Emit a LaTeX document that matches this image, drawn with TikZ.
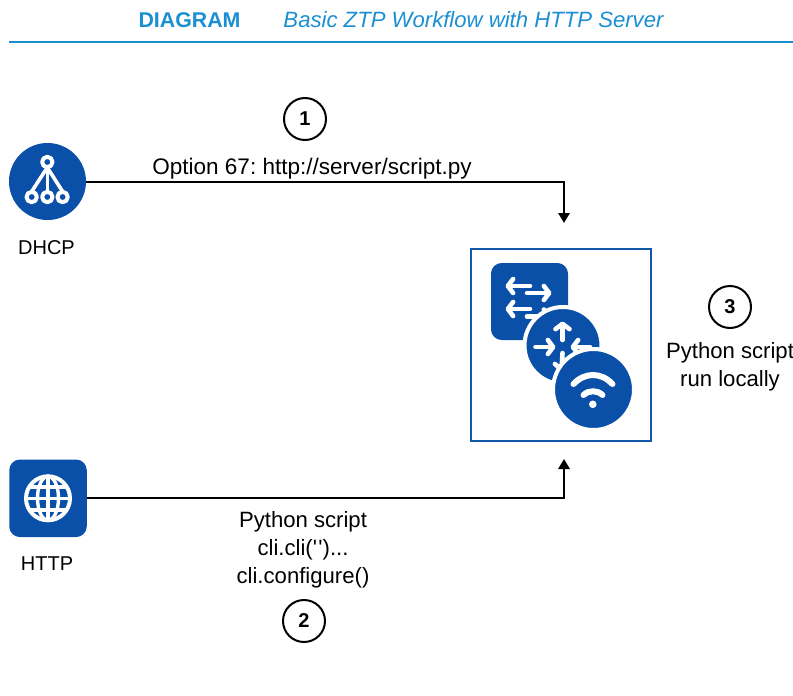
\documentclass[tikz,border=0pt]{standalone}
\usepackage{fontspec}
\setmainfont{Liberation Sans}
\newfontfamily\plainq{Liberation Sans}
\usetikzlibrary{arrows.meta}
\definecolor{iconblue}{HTML}{0A4FA8}
\definecolor{headblue}{HTML}{1B8FD2}
\definecolor{boxblue}{HTML}{1257A8}
\tikzset{
  x=0.75pt,y=-0.75pt,
  px/.style={line width=#1*0.75pt},
  label/.style={font=\fontsize{15}{20.5}\selectfont,align=center,inner sep=0pt,text=black},
  biglabel/.style={font=\frenchspacing\fontsize{16.6}{21}\selectfont,align=center,inner sep=0pt,text=black},
  num/.style={circle,draw=black,px=2,minimum size=42*0.75pt,inner sep=0pt,font=\bfseries\fontsize{15}{18}\selectfont},
  link/.style={draw=black,px=2,-{Triangle[length=7.5pt,width=8.5pt]}},
  icon/.style={fill=iconblue,draw=none,inner sep=0pt},
  wh/.style={draw=white,px=#1,line cap=round,line join=round},
  wa/.style={wh=4.6,-{Straight Barb[length=4pt,width=10.5pt,round]}},
}
\begin{document}
\begin{tikzpicture}
\useasboundingbox (0,0) rectangle (793,696);
% header
\node[inner sep=0pt,text=headblue,font=\bfseries\fontsize{16}{18}\selectfont] (title) at (189.5,20) {DIAGRAM};
\node[inner sep=0pt,text=headblue,font=\itshape\fontsize{16.6}{18}\selectfont] (subtitle) at (473.5,20) {Basic ZTP Workflow with HTTP Server};
\coordinate (ruleL) at (9,42);
\coordinate (ruleR) at (793,42);
\draw[headblue,px=2] (ruleL) -- (ruleR);

% DHCP
\node[icon,circle,minimum size=77*0.75pt] (dhcp) at (47.5,181.5) {};
\draw[wh=3.6] (47.3,167.5) -- (31.7,191.5);
\draw[wh=3.6] (47.3,167.5) -- (47.3,191.5);
\draw[wh=3.6] (47.3,167.5) -- (62.6,191.5);
\draw[wh=4,fill=iconblue] (47.3,162) circle (5.2);
\draw[wh=4,fill=iconblue] (31.7,197) circle (5.2);
\draw[wh=4,fill=iconblue] (47.3,197) circle (5.2);
\draw[wh=4,fill=iconblue] (62.6,197) circle (5.2);
\node[label] (dhcplabel) at (46.5,247.5) {DHCP};

% HTTP
\node[icon,rectangle,rounded corners=8pt,minimum size=77.5*0.75pt] (http) at (48,498.3) {};
\begin{scope}[shift={(48,498.3)}]
  \draw[wh=4] (0,0) circle (22);
  \draw[wh=3.4] (0,0) ellipse (10.5 and 22);
  \draw[wh=3.4] (0,-22) -- (0,22);
  \draw[wh=3.4] (-22,0) -- (22,0);
  \draw[wh=3.4] (-17.5,-11.5) -- (17.5,-11.5);
  \draw[wh=3.4] (-17.5,11.5) -- (17.5,11.5);
\end{scope}
\node[label] (httplabel) at (47,563.5) {HTTP};

% device box
\node[draw=boxblue,px=2,fill=white,rectangle,minimum width=180*0.75pt,minimum height=192*0.75pt,inner sep=0pt] (device) at (561,345) {};
\coordinate (devTop) at (564,223);
\coordinate (devBot) at (564,459);

\node[icon,rectangle,rounded corners=8pt,minimum size=77*0.75pt] (switch) at (529.5,301.5) {};
\draw[wa] (530,286) -- (505.5,286);
\draw[wa] (527,293) -- (551.5,293);
\draw[wa] (530,309) -- (505.5,309);
\draw[wa] (527,316.5) -- (551.5,316.5);

\node[icon,circle,minimum size=77*0.75pt,draw=white,px=4] (router) at (563,345.5) {};
\draw[wa] (562.5,340) -- (562.5,321.5);
\draw[wa] (535.5,347) -- (555.5,347);
\draw[wa] (590,347) -- (570.5,347);
\draw[wa] (562.5,353) -- (561.5,372);

\node[icon,circle,minimum size=81*0.75pt,draw=white,px=4] (wifi) at (593.5,389.5) {};
\fill[white] (592.8,404.3) circle (3.8);
\draw[wh=6] (573.5,384) .. controls (585,372) and (601,372) .. (612.5,384);
\draw[wh=6] (583.5,395) .. controls (589,390) and (597,390) .. (602.5,395);

% connectors
\draw[link] (dhcp.east) -| (devTop);
\draw[link] (http.east) -| (devBot);

% labels
\node[biglabel,font=\frenchspacing\fontsize{16.9}{21}\selectfont] (optlabel) at (312,169) {Option 67: http://server/script.py};
\node[num] (one) at (305,119) {1};
\node[biglabel] (pylabel) at (303,549.5) {Python script\\cli.cli({\plainq\symbol{39}\kern1pt\symbol{39}})...\\cli.configure()};
\node[num] (two) at (304,621) {2};
\node[num] (three) at (730,307) {3};
\node[biglabel] (runlabel) at (730,367) {Python script\\run locally};
\end{tikzpicture}
\end{document}
